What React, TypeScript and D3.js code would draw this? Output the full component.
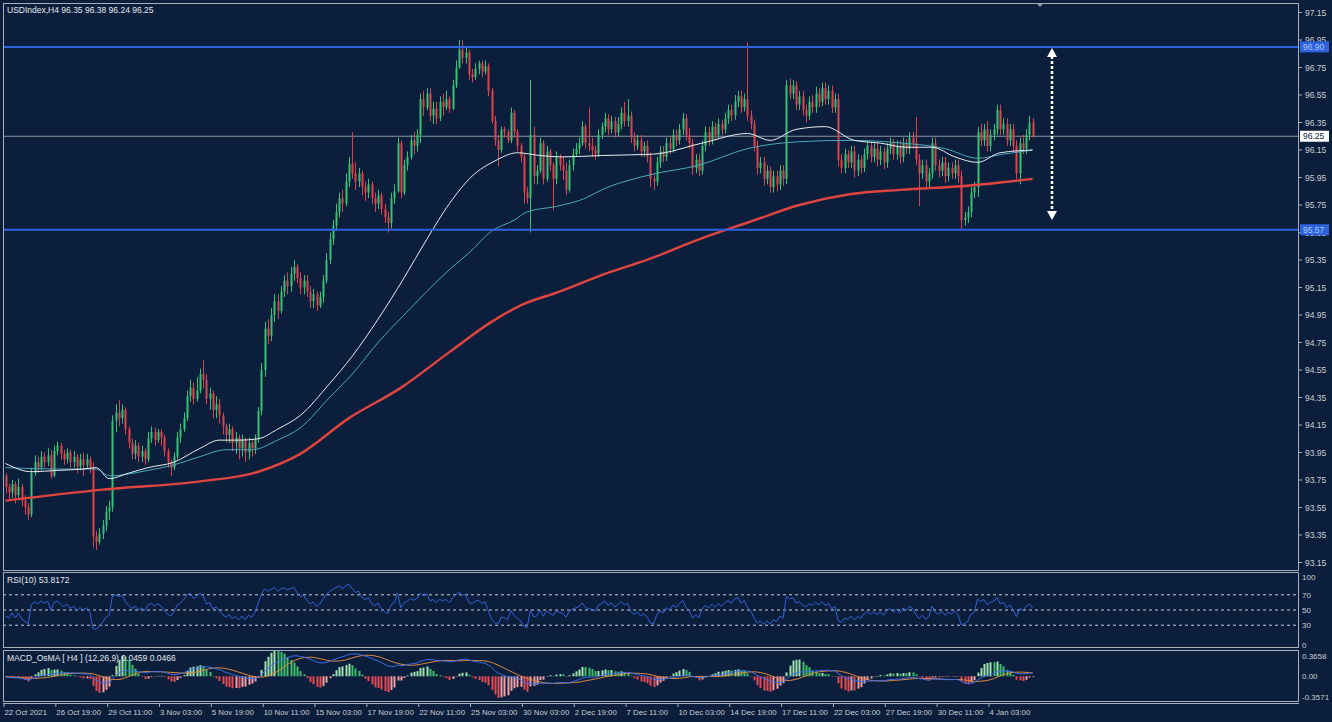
import React, { useEffect } from "react";
import * as d3 from "d3";

// ---------- DATA ----------
const symbolTitle = "USDIndex,H4  96.35 96.38 96.24 96.25";
const rsiTitle = "RSI(10) 53.8172";
const macdTitle = "MACD_OsMA [ H4 ] (12,26,9)  0.0459 0.0466";

const firstOpen = 93.78;
const closes = [
  93.70, 93.66, 93.72, 93.64, 93.70, 93.60, 93.55, 93.50, 93.80, 93.88,
  93.84, 93.92, 93.88, 93.93, 93.78, 93.96, 94.00, 93.94, 93.90, 93.95,
  93.88, 93.92, 93.85, 93.90, 93.86, 93.90, 93.84, 93.34, 93.30, 93.36,
  93.42, 93.52, 93.55, 94.18, 94.24, 94.20, 94.26, 94.12, 94.02, 93.94,
  94.00, 93.92, 93.96, 93.90, 94.05, 94.10, 94.04, 94.10, 94.06, 93.96,
  93.88, 93.84, 93.92, 94.06, 94.12, 94.20, 94.36, 94.42, 94.34, 94.40,
  94.52, 94.48, 94.34, 94.38, 94.26, 94.30, 94.22, 94.14, 94.08, 94.12,
  94.02, 94.06, 93.98, 94.04, 93.95, 94.02, 93.98, 94.05, 94.25, 94.55,
  94.85, 94.80, 94.95, 95.05, 94.98, 95.12, 95.20, 95.16, 95.25, 95.30,
  95.22, 95.15, 95.20, 95.12, 95.05, 95.10, 95.02, 95.08, 95.20, 95.35,
  95.50, 95.60, 95.70, 95.80, 95.76, 95.92, 96.05, 95.98, 95.92, 95.98,
  95.88, 95.84, 95.90, 95.80, 95.76, 95.82, 95.72, 95.66, 95.62, 95.80,
  95.85, 96.20, 95.84, 96.04, 96.10, 96.22, 96.18, 96.26, 96.52, 96.46,
  96.56, 96.40, 96.45, 96.38, 96.50, 96.46, 96.52, 96.45, 96.62, 96.75,
  96.88, 96.82, 96.86, 96.70, 96.68, 96.74, 96.78, 96.72, 96.76, 96.58,
  96.36, 96.22, 96.15, 96.30, 96.28, 96.22, 96.42, 96.28, 96.18, 96.10,
  95.84, 95.80, 96.26, 95.96, 96.00, 96.20, 95.94, 96.14, 96.04, 95.94,
  96.10, 96.04, 96.00, 95.86, 96.04, 96.12, 96.16, 96.20, 96.32, 96.20,
  96.18, 96.15, 96.12, 96.26, 96.32, 96.38, 96.30, 96.36, 96.28, 96.34,
  96.42, 96.36, 96.40, 96.24, 96.18, 96.22, 96.14, 96.18, 96.10, 95.94,
  95.92, 96.06, 96.14, 96.10, 96.20, 96.16, 96.26, 96.22, 96.30, 96.38,
  96.26, 96.20, 96.02, 96.08, 96.00, 96.18, 96.28, 96.22, 96.32, 96.26,
  96.34, 96.30, 96.38, 96.44, 96.40, 96.50, 96.54, 96.46, 96.52, 96.40,
  96.34, 96.18, 96.02, 96.06, 95.94, 96.00, 95.88, 95.96, 95.90, 96.00,
  95.94, 96.62, 96.56, 96.62, 96.48, 96.54, 96.44, 96.40, 96.50, 96.46,
  96.56, 96.50, 96.60, 96.52, 96.58, 96.46, 96.52, 96.08, 96.02, 96.12,
  96.06, 96.14, 96.00, 96.08, 96.02, 96.12, 96.18, 96.10, 96.16, 96.08,
  96.14, 96.06, 96.16, 96.20, 96.12, 96.18, 96.10, 96.20, 96.16, 96.24,
  96.20, 96.08, 95.98, 96.04, 95.92, 95.98, 96.20, 96.04, 96.00, 96.06,
  95.96, 96.02, 95.98, 96.04, 95.96, 95.64, 95.66, 95.70, 95.84, 95.88,
  96.28, 96.22, 96.30, 96.18, 96.26, 96.30, 96.44, 96.30, 96.34, 96.22,
  96.30, 96.18, 95.98, 96.20, 96.16, 96.26, 96.35, 96.25,
];
// wick lengths in hundredths above / below the body
const upperWicks = [
  2, 2, 3, 2, 6, 2, 4, 3, 4, 5, 4, 4, 3, 5, 4, 4, 3, 2, 3, 3,
  2, 4, 2, 4, 5, 4, 2, 4, 4, 4, 4, 4, 5, 4, 6, 9, 4, 2, 2, 3,
  4, 2, 4, 2, 5, 4, 3, 2, 2, 2, 2, 2, 3, 4, 4, 4, 4, 6, 4, 10,
  4, 10, 4, 4, 2, 6, 4, 2, 2, 4, 2, 4, 2, 4, 2, 4, 2, 3, 3, 5,
  5, 7, 5, 5, 5, 4, 4, 6, 5, 5, 2, 4, 4, 4, 4, 4, 2, 4, 4, 5,
  5, 4, 6, 4, 6, 6, 5, 23, 8, 4, 2, 4, 4, 2, 4, 4, 2, 4, 4, 4,
  5, 4, 2, 4, 4, 4, 6, 4, 4, 6, 4, 4, 5, 5, 4, 6, 6, 2, 4, 5,
  7, 7, 4, 2, 4, 4, 2, 2, 4, 2, 2, 4, 4, 2, 2, 2, 4, 2, 2, 2,
  2, 4, 40, 6, 4, 4, 2, 4, 2, 2, 4, 2, 6, 6, 4, 4, 4, 4, 4, 2,
  26, 6, 3, 4, 3, 4, 3, 4, 3, 5, 4, 8, 12, 3, 4, 4, 4, 3, 4, 3,
  3, 4, 4, 4, 4, 5, 4, 4, 4, 4, 3, 5, 3, 4, 4, 4, 4, 4, 4, 3,
  4, 3, 4, 4, 4, 5, 4, 4, 4, 41, 4, 3, 4, 4, 4, 4, 3, 4, 4, 4,
  4, 4, 5, 4, 3, 4, 4, 4, 4, 5, 5, 4, 4, 4, 4, 4, 4, 4, 4, 4,
  3, 4, 4, 4, 3, 4, 4, 3, 4, 4, 4, 3, 4, 4, 3, 4, 4, 4, 3, 4,
  4, 19, 4, 4, 4, 4, 4, 4, 4, 4, 4, 4, 4, 4, 4, 4, 4, 4, 4, 4,
  4, 6, 4, 6, 4, 4, 4, 4, 4, 4, 4, 4, 4, 4, 6, 4, 5, 3,
];
const lowerWicks = [
  5, 6, 4, 6, 2, 4, 5, 4, 2, 2, 4, 2, 4, 3, 2, 1, 3, 4, 4, 3,
  4, 4, 5, 3, 8, 2, 4, 8, 6, 2, 4, 4, 6, 3, 8, 6, 4, 4, 4, 4,
  4, 4, 4, 4, 2, 3, 4, 2, 6, 4, 4, 6, 2, 2, 4, 2, 2, 4, 4, 2,
  2, 6, 4, 8, 6, 6, 6, 6, 6, 6, 6, 8, 8, 6, 7, 5, 6, 4, 3, 3,
  5, 6, 4, 5, 6, 2, 4, 6, 4, 5, 4, 5, 5, 4, 5, 5, 4, 2, 4, 2,
  3, 4, 4, 4, 6, 2, 4, 4, 6, 4, 6, 6, 4, 4, 6, 4, 4, 4, 7, 4,
  4, 1, 4, 2, 4, 2, 6, 4, 6, 6, 2, 4, 6, 4, 2, 6, 2, 3, 1, 2,
  1, 4, 4, 4, 4, 2, 4, 4, 2, 4, 2, 4, 12, 2, 4, 2, 2, 4, 4, 4,
  8, 4, 25, 6, 6, 2, 4, 2, 4, 23, 4, 4, 7, 4, 2, 4, 2, 4, 2, 4,
  4, 5, 4, 2, 3, 4, 4, 3, 4, 3, 4, 4, 4, 4, 4, 3, 4, 4, 4, 6,
  6, 3, 4, 4, 3, 4, 3, 4, 3, 4, 4, 4, 5, 4, 4, 3, 4, 4, 3, 4,
  3, 4, 3, 4, 4, 3, 4, 4, 3, 4, 4, 4, 5, 4, 5, 4, 4, 4, 5, 4,
  5, 4, 4, 4, 4, 4, 4, 5, 3, 4, 4, 4, 3, 4, 4, 4, 4, 5, 4, 4,
  4, 4, 5, 4, 4, 3, 4, 4, 4, 5, 4, 5, 4, 4, 4, 4, 5, 4, 4, 4,
  4, 4, 24, 4, 4, 4, 4, 4, 5, 4, 5, 4, 4, 4, 5, 6, 4, 4, 4, 4,
  7, 4, 4, 4, 4, 4, 4, 4, 4, 4, 4, 4, 4, 8, 4, 4, 4, 1,
];

// moving averages (bar index, value)
const whiteIdx = [0, 8, 16, 24, 28, 32, 38, 44, 52, 60, 66, 72, 78, 84, 91, 100, 107, 115, 123, 130, 137, 144, 151, 158, 165, 172, 184, 200, 215, 229, 236, 244, 253, 262, 270, 278, 286, 293, 300, 307, 317];
const whiteVal = [93.87, 93.81, 93.82, 93.83, 93.84, 93.76, 93.80, 93.84, 93.88, 93.98, 94.04, 94.04, 94.05, 94.12, 94.22, 94.45, 94.65, 94.92, 95.22, 95.50, 95.76, 95.96, 96.07, 96.13, 96.11, 96.10, 96.11, 96.12, 96.20, 96.27, 96.22, 96.30, 96.32, 96.22, 96.20, 96.17, 96.17, 96.10, 96.06, 96.13, 96.15];
const cyanIdx = [0, 16, 28, 32, 44, 52, 60, 68, 76, 84, 91, 100, 107, 115, 123, 130, 137, 143, 150, 157, 161, 170, 179, 184, 199, 214, 229, 245, 260, 277, 290, 300, 308, 317];
const cyanVal = [93.84, 93.83, 93.83, 93.78, 93.82, 93.86, 93.92, 93.97, 93.97, 94.04, 94.13, 94.35, 94.52, 94.75, 94.95, 95.12, 95.28, 95.40, 95.56, 95.64, 95.70, 95.74, 95.80, 95.86, 95.97, 96.04, 96.16, 96.21, 96.22, 96.20, 96.16, 96.09, 96.12, 96.15];
const redIdx = [0, 30, 60, 78, 91, 106, 122, 137, 150, 159, 171, 184, 199, 214, 230, 245, 261, 276, 297, 317];
const redVal = [93.60, 93.68, 93.74, 93.81, 93.94, 94.20, 94.42, 94.68, 94.90, 95.02, 95.12, 95.24, 95.36, 95.50, 95.63, 95.75, 95.83, 95.86, 95.89, 95.94];

const timeLabels = ["22 Oct 2021", "26 Oct 19:00", "29 Oct 11:00", "3 Nov 03:00", "5 Nov 19:00", "10 Nov 11:00", "15 Nov 03:00", "17 Nov 19:00", "22 Nov 11:00", "25 Nov 03:00", "30 Nov 03:00", "2 Dec 19:00", "7 Dec 11:00", "10 Dec 03:00", "14 Dec 19:00", "17 Dec 11:00", "22 Dec 03:00", "27 Dec 19:00", "30 Dec 11:00", "4 Jan 03:00"];
const barsPerLabel = 16;
const priceTicks = [97.15, 96.95, 96.75, 96.55, 96.35, 96.15, 95.95, 95.75, 95.55, 95.35, 95.15, 94.95, 94.75, 94.55, 94.35, 94.15, 93.95, 93.75, 93.55, 93.35, 93.15];
const levelLines = [96.90, 95.57];
const currentPrice = 96.25;
const rsiLevels = [70, 50, 30];
const rsiAxis = [100, 70, 50, 30, 0];
const macdAxis = [0.3658, 0.0, -0.3571];
const macdAxisText = ["0.3658", "0.00", "-0.3571"];
const rsiPeriod = 10;
const macdFast = 12, macdSlow = 26, macdSignal = 9;
const osmaScale = 2.7; // histogram is drawn magnified in this indicator

// ---------- STYLE ----------
const BG = "#0b1e3b";
const FG = "#c9ced6";
const BORDER = "#a9afb8";
const BULL = "#35c272";
const BEAR = "#e0424d";
const FONT = "'Liberation Sans', Arial, sans-serif";

export default function App() {
  useEffect(() => {
    document.body.style.margin = "0";
    document.body.style.background = BG;
  }, []);

  const N = closes.length;
  const opens = closes.map((c, i) => (i === 0 ? firstOpen : closes[i - 1]));
  const highs = closes.map((c, i) => Math.max(opens[i], c) + upperWicks[i] / 100);
  const lows = closes.map((c, i) => Math.min(opens[i], c) - lowerWicks[i] / 100);

  // layout
  const L = 3, R = 1299;
  const mainTop = 3, mainBot = 570;
  const rsiTop = 572, rsiBot = 648;
  const macdTop = 650, macdBot = 702;

  const x = d3.scaleLinear().domain([0, N - 1]).range([5.5, 1032.6]);
  const y = d3.scaleLinear().domain([93.15, 97.15]).range([562.5, 12.5]);
  const yr = d3.scaleLinear().domain([0, 100]).range([rsiBot, rsiTop]);
  const ym = d3.scaleLinear().domain([-0.3571, 0.3658]).range([macdBot - 1, macdTop + 1]);

  // RSI (Wilder)
  let ag = 0.025, al = 0.025;
  const rsi = closes.map((c, i) => {
    const prev = i === 0 ? firstOpen : closes[i - 1];
    const ch = c - prev;
    ag = (ag * (rsiPeriod - 1) + Math.max(ch, 0)) / rsiPeriod;
    al = (al * (rsiPeriod - 1) + Math.max(-ch, 0)) / rsiPeriod;
    return 100 - 100 / (1 + ag / al);
  });

  // MACD
  let ef = firstOpen, es = firstOpen;
  const macd = closes.map((c) => {
    ef = ef + (2 / (macdFast + 1)) * (c - ef);
    es = es + (2 / (macdSlow + 1)) * (c - es);
    return ef - es;
  });
  const signal = macd.map((_, i) => d3.mean(macd.slice(Math.max(0, i - macdSignal + 1), i + 1)) as number);
  const osma = macd.map((m, i) => (m - signal[i]) * osmaScale);

  const maLine = d3.line<[number, number]>().x((d) => x(d[0])).y((d) => y(d[1])).curve(d3.curveMonotoneX);
  const zip = (a: number[], b: number[]) => a.map((v, i) => [v, b[i]] as [number, number]);
  const lineIdx = d3.line<number>().x((_, i) => x(i));

  const tickX = (k: number) => x(k * barsPerLabel) - 1.5;

  return (
    <svg width={1332} height={722} style={{ position: "fixed", left: 0, top: 0, display: "block", background: BG }} fontFamily={FONT}>
      <defs>
        <clipPath id="cMain"><rect x={L} y={mainTop} width={R - L} height={mainBot - mainTop} /></clipPath>
        <clipPath id="cRsi"><rect x={L} y={rsiTop} width={R - L} height={rsiBot - rsiTop} /></clipPath>
        <clipPath id="cMacd"><rect x={L} y={macdTop} width={R - L} height={macdBot - macdTop} /></clipPath>
      </defs>
      <rect x={0} y={0} width={1332} height={722} fill={BG} />

      {/* main panel */}
      <g clipPath="url(#cMain)">
        <line x1={L} x2={R} y1={y(currentPrice)} y2={y(currentPrice)} stroke="#8d96a3" strokeWidth={1} />
        {closes.map((c, i) => {
          const o = opens[i];
          const up = c >= o;
          const cx = Math.round(x(i)) + 0.5;
          const top = y(Math.max(o, c));
          const bh = Math.max(1, Math.abs(y(o) - y(c)));
          return (
            <g key={i}>
              <line x1={cx} x2={cx} y1={y(highs[i])} y2={y(lows[i])} stroke={up ? BULL : BEAR} strokeWidth={1} />
              <rect x={cx - 1} y={top} width={2} height={bh} fill={up ? BULL : BEAR} />
            </g>
          );
        })}
        <path d={maLine(zip(redIdx, redVal)) || ""} fill="none" stroke="#e0453f" strokeWidth={2.4} />
        <path d={maLine(zip(cyanIdx, cyanVal)) || ""} fill="none" stroke="#4aa9b8" strokeWidth={1} />
        <path d={maLine(zip(whiteIdx, whiteVal)) || ""} fill="none" stroke="#e8edf3" strokeWidth={1} />
        {levelLines.map((v) => (
          <line key={v} x1={L} x2={R} y1={y(v)} y2={y(v)} stroke="#2f62e0" strokeWidth={2} />
        ))}
        <line x1={1052} x2={1052} y1={56} y2={212} stroke="#ffffff" strokeWidth={2.5} strokeDasharray="3 2" />
        <polygon points="1047,57 1057,57 1052,48" fill="#ffffff" />
        <polygon points="1047,211 1057,211 1052,220" fill="#ffffff" />
      </g>
      <polygon points="1036,3 1044,3 1040,7" fill="#8d96a3" />
      <rect x={L + 0.5} y={mainTop + 0.5} width={R - L - 1} height={mainBot - mainTop} fill="none" stroke={BORDER} strokeWidth={1} />
      <text x={7} y={13} fill="#e6e9ee" fontSize={8.5}>{symbolTitle}</text>

      {/* price axis */}
      {priceTicks.map((v) => (
        <g key={v}>
          <line x1={R} x2={R + 3} y1={y(v)} y2={y(v)} stroke={BORDER} />
          <text x={R + 6} y={y(v) + 3} fill={FG} fontSize={8.5}>{v.toFixed(2)}</text>
        </g>
      ))}
      {levelLines.map((v) => (
        <g key={"b" + v}>
          <rect x={R + 1} y={y(v) - 5.5} width={29} height={11} fill="#2f62e0" />
          <text x={R + 4} y={y(v) + 3} fill="#a9c6ff" fontSize={8.5}>{v.toFixed(2)}</text>
        </g>
      ))}
      <rect x={R + 1} y={y(currentPrice) - 5.5} width={29} height={11} fill="#ffffff" />
      <text x={R + 4} y={y(currentPrice) + 3} fill="#0b1e3b" fontSize={8.5}>{currentPrice.toFixed(2)}</text>

      {/* RSI panel */}
      <g clipPath="url(#cRsi)">
        {rsiLevels.map((v) => (
          <line key={v} x1={L} x2={R} y1={yr(v)} y2={yr(v)} stroke="#c9ced6" strokeWidth={1} strokeDasharray="3 3" />
        ))}
        <path d={lineIdx.y((d) => yr(d))(rsi) || ""} fill="none" stroke="#3563d8" strokeWidth={1} />
      </g>
      <rect x={L + 0.5} y={rsiTop + 0.5} width={R - L - 1} height={rsiBot - rsiTop - 1} fill="none" stroke={BORDER} strokeWidth={1} />
      <text x={7} y={rsiTop + 11} fill="#e6e9ee" fontSize={8.5}>{rsiTitle}</text>
      {rsiAxis.map((v) => (
        <text key={v} x={R + 3} y={Math.min(Math.max(yr(v) + 3, rsiTop + 8), rsiBot)} fill={FG} fontSize={8}>{v}</text>
      ))}

      {/* MACD panel */}
      <g clipPath="url(#cMacd)">
        {osma.map((v, i) => {
          const prev = i === 0 ? 0 : osma[i - 1];
          const rising = v >= prev;
          const col = v >= 0 ? (rising ? "#9fe3b0" : "#3fbf6c") : (rising ? "#f2a0a6" : "#e64a55");
          const y0 = ym(0), y1 = ym(v);
          return <rect key={i} x={Math.round(x(i)) - 0.5} y={Math.min(y0, y1)} width={2} height={Math.max(0.5, Math.abs(y1 - y0))} fill={col} />;
        })}
        <path d={lineIdx.y((d) => ym(d))(signal) || ""} fill="none" stroke="#e08a3c" strokeWidth={1} />
        <path d={lineIdx.y((d) => ym(d))(macd) || ""} fill="none" stroke="#3e6fe6" strokeWidth={1} />
      </g>
      <rect x={L + 0.5} y={macdTop + 0.5} width={R - L - 1} height={macdBot - macdTop - 1} fill="none" stroke={BORDER} strokeWidth={1} />
      <text x={7} y={macdTop + 11} fill="#e6e9ee" fontSize={8.5}>{macdTitle}</text>
      {macdAxis.map((v, i) => (
        <text key={v} x={R + 3} y={i === 0 ? macdTop + 9 : i === 2 ? macdBot - 2 : ym(v) + 3} fill={FG} fontSize={8}>{macdAxisText[i]}</text>
      ))}

      {/* time axis */}
      <line x1={L} x2={R} y1={macdBot + 1.5} y2={macdBot + 1.5} stroke={BORDER} />
      {timeLabels.map((t, k) => (
        <g key={t}>
          <line x1={tickX(k)} x2={tickX(k)} y1={macdBot + 1} y2={macdBot + 5} stroke={BORDER} />
          <text x={tickX(k) + 0.5} y={macdBot + 13} fill={FG} fontSize={7.8}>{t}</text>
        </g>
      ))}
    </svg>
  );
}
